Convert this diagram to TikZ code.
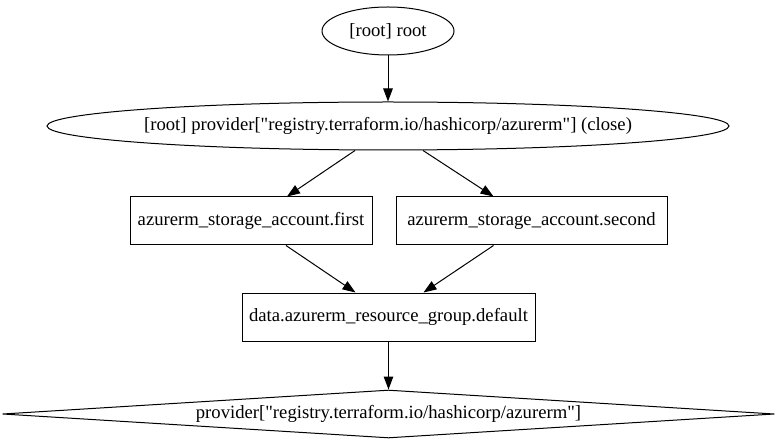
\documentclass[tikz,border=0pt]{standalone}
\usepackage{fontspec}
\setmainfont{Liberation Serif}
\usetikzlibrary{arrows.meta,positioning,shapes.geometric}

\begin{document}
\begin{tikzpicture}[x=1pt,y=-1pt,
  ell/.style={draw,line width=1pt,ellipse,inner sep=0pt,minimum height=48pt},
  box/.style={draw,line width=1pt,rectangle,inner sep=0pt,minimum height=48pt},
  dia/.style={draw,line width=1pt,diamond,inner sep=0pt,minimum height=48pt},
  lbl/.style={font=\fontsize{18.67}{22}\selectfont},
  arr/.style={-{Triangle[length=13pt,width=9.5pt]},line width=1pt}]
  \useasboundingbox (0,0) rectangle (778,443);
  \node[ell,lbl,minimum width=132pt] (root) at (388,31) {[root] root};
  \node[ell,lbl,minimum width=682pt,below=46pt of root] (close)
    {\makebox[0pt]{[root] provider[\textquotedbl registry.terraform.io/hashicorp/azurerm\textquotedbl] (close)}};
  \node[box,lbl,minimum width=242pt] (first) at (251,221)
    {azurerm\_storage\_account.first};
  \node[box,lbl,minimum width=271pt] (second) at (531.5,221)
    {azurerm\_storage\_account.second};
  \node[box,lbl,minimum width=293pt] (rg) at (388.5,317)
    {data.azurerm\_resource\_group.default};
  \node[dia,lbl,minimum width=772pt,below=48pt of rg] (prov)
    {\makebox[0pt]{provider[\textquotedbl registry.terraform.io/hashicorp/azurerm\textquotedbl]}};
  \draw[arr] (root) -- (close);
  \draw[arr] ([xshift=-33pt]close.south) -- ([xshift=36pt]first.north);
  \draw[arr] ([xshift=35pt]close.south) -- ([xshift=-38pt]second.north);
  \draw[arr] ([xshift=35pt]first.south) -- ([xshift=-33pt]rg.north);
  \draw[arr] ([xshift=-38pt]second.south) -- ([xshift=35pt]rg.north);
  \draw[arr] (rg) -- (prov);
\end{tikzpicture}
\end{document}
